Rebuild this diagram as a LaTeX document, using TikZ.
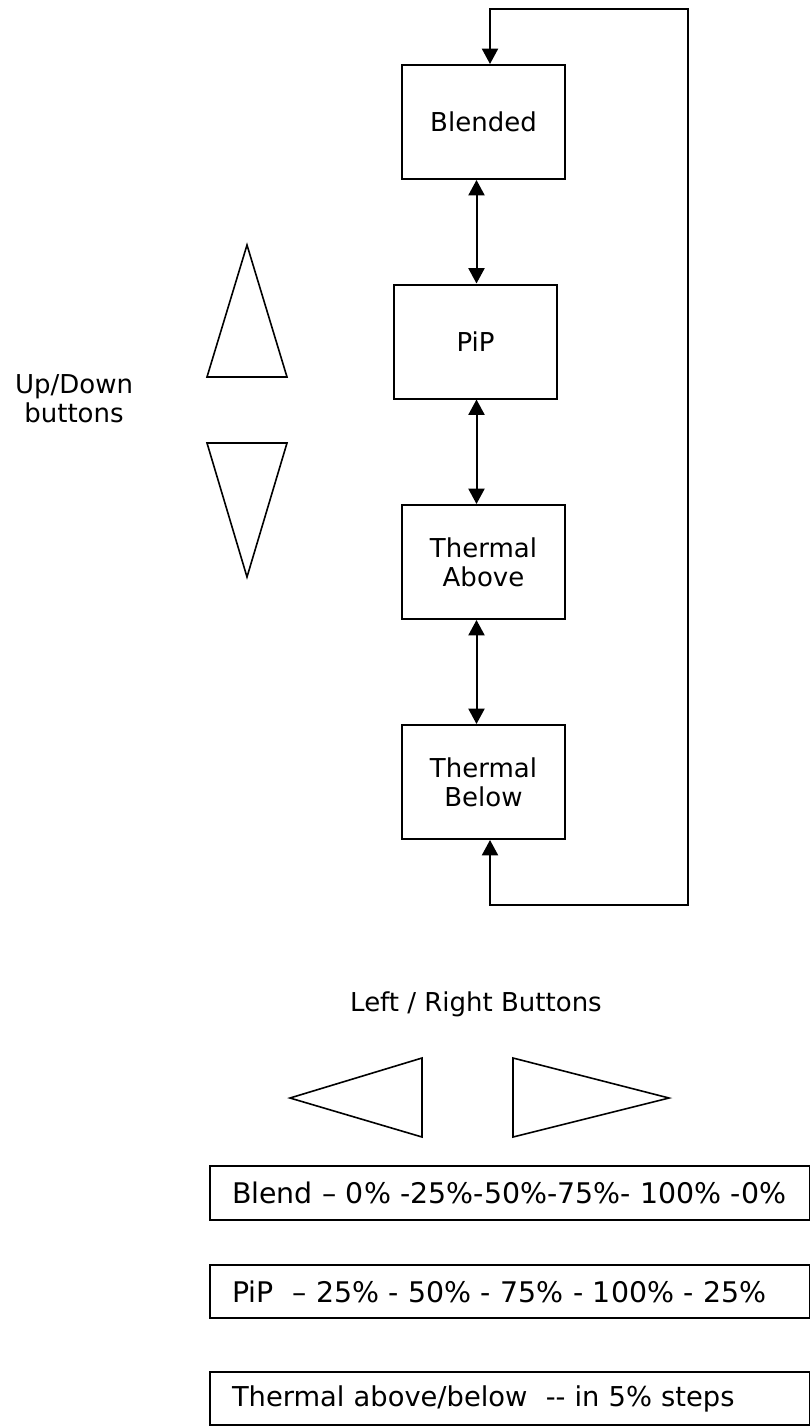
\documentclass[tikz,border=0pt]{standalone}
\usepackage{fontspec}
\setmainfont{DejaVu Sans}
\usetikzlibrary{arrows.meta}
\begin{document}
\begin{tikzpicture}[x=0.75pt,y=-0.75pt,
  line width=1.5pt,
  >={Triangle[length=11.5pt,width=12pt]},
  modebox/.style={draw, rectangle, minimum width=122.25pt, minimum height=85.5pt, align=center, inner sep=0pt, font=\fontsize{19.5}{22}\selectfont},
  valuebox/.style={draw, rectangle, anchor=west, minimum height=40pt, text width=417pt, inner xsep=16.5pt, inner ysep=0pt, align=left, font=\fontsize{20.5}{24}\selectfont},
  widefont/.style={font=\fontsize{21.3}{24}\selectfont},
  txt/.style={align=center, inner sep=0pt, font=\fontsize{19.5}{21.5}\selectfont},
  btn/.style={draw, line width=1.2pt, line join=miter}
]
\useasboundingbox (0,0) rectangle (810,1428);

% mode boxes
\node[modebox] (blended) at (483.5,122) {Blended};
\node[modebox] (pip) at (475.5,341.5) {PiP};
\node[modebox] (ta) at (483.5,562) {Thermal\\Above};
\node[modebox] (tb) at (483.5,782) {Thermal\\Below};

\coordinate (ax) at (476.5,0);
\coordinate (lx) at (490,0);
\coordinate (tr) at (688,9);
\coordinate (br) at (688,905);

\draw[<->] (blended.south -| ax) -- (pip.north -| ax);
\draw[<->] (pip.south -| ax) -- (ta.north -| ax);
\draw[<->] (ta.south -| ax) -- (tb.north -| ax);
\draw[<->] (blended.north -| lx) |- (tr) -- (br) -| (tb.south -| lx);

% up/down buttons
\node[txt] (ud) at (74,399) {Up/Down\\buttons};
\draw[btn] (247,245) -- (287,377) -- (207,377) -- cycle;
\draw[btn] (207,443) -- (287,443) -- (247,577) -- cycle;

% left/right buttons
\node[txt] (lr) at (476,1004) {Left / Right Buttons};
\draw[btn] (290,1098) -- (422,1058) -- (422,1137) -- cycle;
\draw[btn] (513,1058) -- (669,1098) -- (513,1137) -- cycle;

% value boxes
\node[valuebox, widefont] (v1) at (209,1193) {Blend – 0\% -25\%-50\%-75\%- 100\% -0\%};
\node[valuebox, widefont] (v2) at (209,1291.5) {PiP\ \ – 25\% - 50\% - 75\% - 100\% - 25\%};
\node[valuebox] (v3) at (209,1398.5) {Thermal above/below\ \ -{}- in 5\% steps};
\end{tikzpicture}
\end{document}
